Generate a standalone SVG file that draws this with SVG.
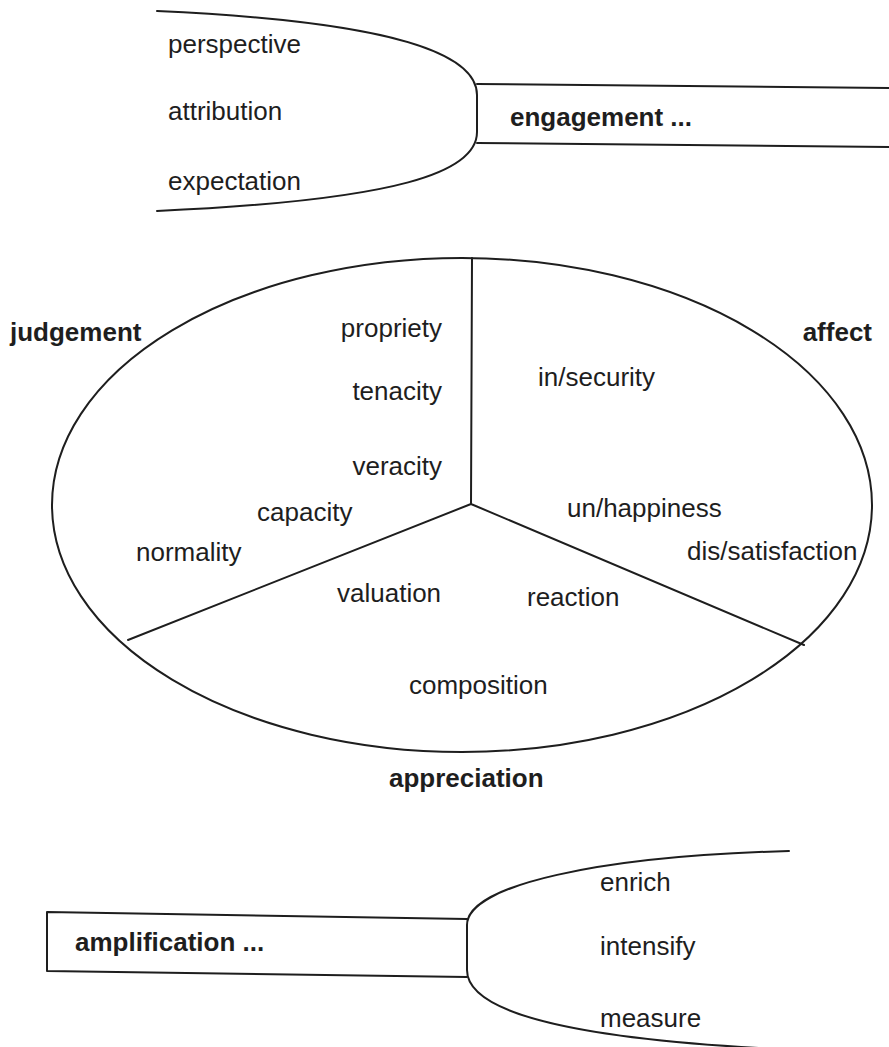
<svg xmlns="http://www.w3.org/2000/svg" width="889" height="1047" viewBox="0 0 889 1047">
<style>
.ln{fill:none;stroke:#1e1e1e;stroke-width:2;stroke-linecap:round;stroke-linejoin:round}
.t{font-family:"Liberation Sans",Arial,sans-serif;font-size:26px;fill:#1e1e1e}
.b{font-weight:bold}
</style>
<rect width="889" height="1047" fill="#fff"/>
<g id="engagement">
<path class="ln" d="M157,11 C400,22 477,55 477,95 L477,132 C477,172 400,200 157,211"/>
<path class="ln" d="M477,84 L889,88 M477,143 L889,147"/>
<text class="t" x="168" y="53">perspective</text>
<text class="t" x="168" y="120">attribution</text>
<text class="t" x="168" y="190">expectation</text>
<text class="t b" x="510" y="126">engagement ...</text>
</g>
<g id="attitude">
<ellipse class="ln" cx="462" cy="505" rx="410" ry="247"/>
<g id="connectors">
<path class="ln" d="M472,258 L471,504 L128,640 M471,504 L804,645"/>
</g>
<g id="judgement">
<text class="t b" x="10" y="341">judgement</text>
<text class="t" x="442" y="337" text-anchor="end">propriety</text>
<text class="t" x="442" y="400" text-anchor="end">tenacity</text>
<text class="t" x="442" y="475" text-anchor="end">veracity</text>
<text class="t" x="257" y="521">capacity</text>
<text class="t" x="136" y="561">normality</text>
</g>
<g id="affect">
<text class="t b" x="872" y="341" text-anchor="end">affect</text>
<text class="t" x="538" y="386">in/security</text>
<text class="t" x="567" y="517">un/happiness</text>
<text class="t" x="687" y="560">dis/satisfaction</text>
</g>
<g id="appreciation">
<text class="t" x="337" y="602">valuation</text>
<text class="t" x="527" y="606">reaction</text>
<text class="t" x="409" y="694">composition</text>
<text class="t b" x="389" y="787">appreciation</text>
</g>
</g>
<g id="amplification">
<path class="ln" d="M789,851 C600,856 467,885 467,925 L467,970 C467,1010 560,1040 800,1050"/>
<path class="ln" d="M467,919 L47,912 L47,971 L467,977"/>
<text class="t b" x="75" y="951">amplification ...</text>
<text class="t" x="600" y="891">enrich</text>
<text class="t" x="600" y="955">intensify</text>
<text class="t" x="600" y="1027">measure</text>
</g>
</svg>
